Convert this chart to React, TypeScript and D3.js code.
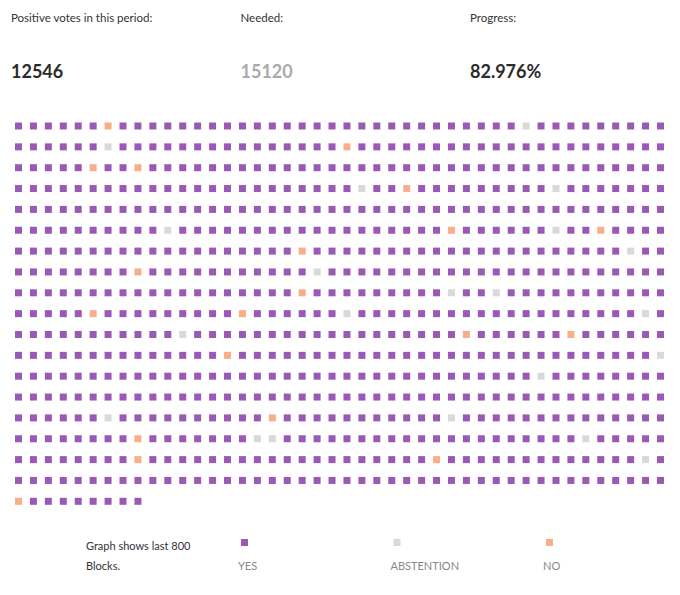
import React, { useEffect, useRef } from "react";
import * as d3 from "d3";

// ---- data ----
const statLabels = ["Positive votes in this period:", "Needed:", "Progress:"];
const statValues = ["12546", "15120", "82.976%"];
const gridColumns = 44;
const totalBlocks = 801;
// [row, col] positions of NO votes
const noBlocks: [number, number][] = [
  [0, 6], [1, 22], [2, 5], [2, 8], [3, 26], [5, 29], [5, 39], [6, 19], [7, 8], [8, 19],
  [9, 5], [9, 15], [10, 30], [10, 37], [11, 14], [14, 17], [15, 8], [16, 8], [16, 28], [18, 0],
];
// [row, col] positions of ABSTENTION votes
const abstentionBlocks: [number, number][] = [
  [0, 34], [1, 6], [3, 23], [3, 36], [5, 10], [5, 36], [6, 41], [7, 20], [8, 29], [8, 32],
  [9, 22], [9, 42], [10, 11], [11, 43], [12, 35], [14, 6], [14, 29], [15, 16], [15, 17],
  [15, 38], [16, 42],
];
const legendKeys = ["YES", "ABSTENTION", "NO"];
const noteLines = ["Graph shows last 800", "Blocks."];

const colors: Record<string, string> = {
  YES: "#9b59b6",
  ABSTENTION: "#d9d9d9",
  NO: "#f7ae8a",
};

export default function App() {
  const ref = useRef<SVGSVGElement | null>(null);

  useEffect(() => {
    const svg = d3.select(ref.current);
    svg.selectAll("*").remove();
    const font = "Lato, 'Open Sans', sans-serif";

    // header stats
    const statX = d3.scalePoint<string>().domain(statLabels).range([11, 470]);
    const hdr = svg.append("g");
    statLabels.forEach((lab, i) => {
      const x = statX(lab)!;
      hdr.append("text").attr("x", x).attr("y", 22).attr("font-family", font)
        .attr("font-size", 11.5).attr("fill", "#333").text(lab);
      hdr.append("text").attr("x", x).attr("y", 78).attr("font-family", font)
        .attr("font-size", 18).attr("font-weight", 700)
        .attr("fill", i === 1 ? "#aaaaaa" : "#2b2b2b").text(statValues[i]);
    });

    // votes
    const voteMap = new Map<number, string>();
    noBlocks.forEach(([r, c]) => voteMap.set(r * gridColumns + c, "NO"));
    abstentionBlocks.forEach(([r, c]) => voteMap.set(r * gridColumns + c, "ABSTENTION"));
    const blocks = d3.range(totalBlocks).map((i) => ({
      i,
      row: Math.floor(i / gridColumns),
      col: i % gridColumns,
      vote: voteMap.get(i) || "YES",
    }));
    const nRows = Math.ceil(totalBlocks / gridColumns);

    const sq = 7;
    const x = d3.scaleLinear().domain([0, gridColumns - 1]).range([15, 15 + 43 * 14.93]);
    const y = d3.scaleLinear().domain([0, nRows - 1]).range([122.5, 122.5 + 18 * 20.85]);

    svg.append("g").selectAll("rect").data(blocks).join("rect")
      .attr("x", (d) => x(d.col))
      .attr("y", (d) => y(d.row))
      .attr("width", sq).attr("height", sq)
      .attr("fill", (d) => colors[d.vote]);

    // legend
    const lx = d3.scalePoint<string>().domain(legendKeys).range([238, 543]);
    const leg = svg.append("g");
    noteLines.forEach((t, i) => {
      leg.append("text").attr("x", 86).attr("y", 550 + i * 20).attr("font-family", font)
        .attr("font-size", 11).attr("fill", "#333").text(t);
    });
    legendKeys.forEach((k) => {
      const px = lx(k)!;
      leg.append("rect").attr("x", px + 3).attr("y", 539).attr("width", sq).attr("height", sq)
        .attr("fill", colors[k]);
      leg.append("text").attr("x", px).attr("y", 570).attr("font-family", font)
        .attr("font-size", 11).attr("fill", "#888").text(k);
    });
  }, []);

  return (
    <svg
      ref={ref}
      width={680}
      height={595}
      style={{ position: "absolute", left: 0, top: 0, background: "#fff" }}
    />
  );
}
